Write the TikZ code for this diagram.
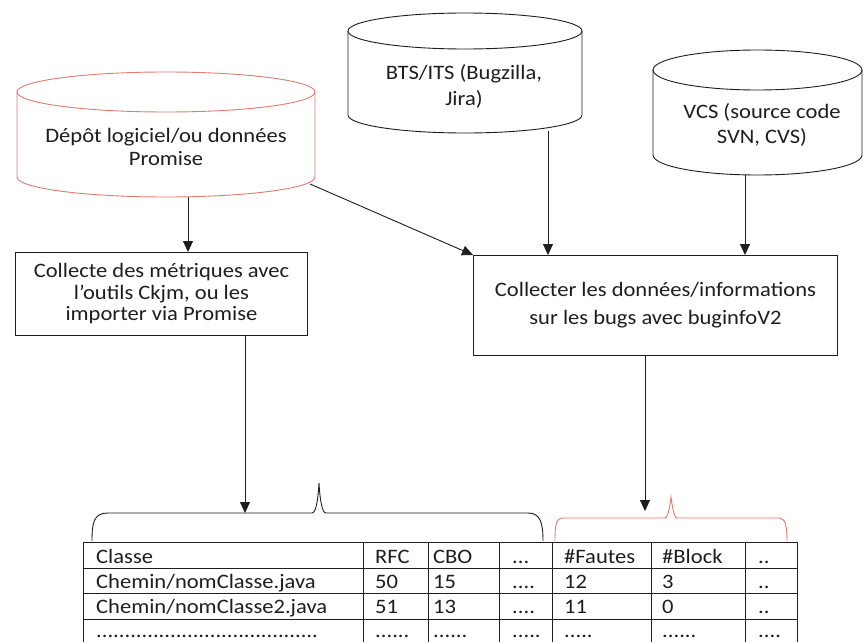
\documentclass[tikz,border=0pt]{standalone}
\usepackage{fontspec}
\setmainfont{Carlito}[FakeStretch=1.1]
\usetikzlibrary{arrows.meta}
\definecolor{salmon}{RGB}{222,125,110}
\definecolor{ink}{RGB}{30,30,30}
% database drum: #1 colour, #2 centre x, #3 top ellipse y, #4 bottom rim y, #5 x radius, #6 y radius
\newcommand\drum[6]{%
  \draw[line, draw=#1] (#2,#3) ellipse [x radius=#5pt, y radius=#6pt];
  \draw[line, draw=#1] ({#2-#5},#3) -- ({#2-#5},#4)
    arc[start angle=180, end angle=360, x radius=#5pt, y radius=#6pt] -- ({#2+#5},#3);}
\begin{document}
\begin{tikzpicture}[x=1pt,y=-1pt,
  line/.style={draw=ink, line width=0.9pt},
  arr/.style={line, -{Triangle[length=11pt,width=10pt]}},
  txt/.style={align=center, inner sep=0pt, text=ink},
  box/.style={line, fill=white, align=center, text=ink, anchor=north west},
  cell/.style={anchor=base west, inner sep=0pt, text=ink, font=\fontsize{20.5}{22}\selectfont},
]
\useasboundingbox[fill=white] (0,0) rectangle (865,642);

% data sources
\drum{salmon}{166}{92}{177}{149}{20}
\drum{ink}{465}{31}{115}{117}{18}
\drum{ink}{757.5}{70}{155}{104.5}{20}
\node[txt, font=\fontsize{20.5}{23}\selectfont] (depot) at (166,147) {Dépôt logiciel/ou données\\Promise};
\node[txt, font=\fontsize{20.5}{26}\selectfont] (bts) at (464,86) {BTS/ITS (Bugzilla,\\Jira)};
\node[txt, font=\fontsize{20.5}{25}\selectfont] (vcs) at (762,125) {VCS (source code\\SVN, CVS)};
\coordinate (c1s) at (188,197);
\coordinate (c1r) at (310,184);
\coordinate (c2s) at (548,131);
\coordinate (c3s) at (745,175);

% processing steps
\node[box, minimum width=292pt, minimum height=83pt, font=\fontsize{20.5}{21.5}\selectfont] (b1) at (15,252)
  {Collecte des métriques avec\\l’outils Ckjm, ou les\\importer via Promise};
\node[box, minimum width=364pt, minimum height=100pt, font=\fontsize{20.5}{28}\selectfont] (b2) at (473,255)
  {Collecter les données/informations\\sur les bugs avec buginfoV2};

\draw[arr] (c1s) -- (c1s |- b1.north);
\draw[arr] (c1r) -- (b2.north west);
\draw[arr] (c2s) -- (c2s |- b2.north);
\draw[arr] (c3s) -- (c3s |- b2.north);

% braces over the table
\coordinate (brL) at (245,513);
\coordinate (brR) at (645,511);
\draw[line] (92,541) .. controls (92,522) and (94,513) .. (108,513) -- (312,513)
  .. controls (316,513) and (318,500) .. (319,483) .. controls (320,500) and (322,513) .. (326,513)
  -- (528,513) .. controls (540,513) and (543,522) .. (543,541);
\draw[line, draw=salmon] (555,541) .. controls (555,525) and (556,518) .. (563,518) -- (665,518)
  .. controls (668,518) and (670,505) .. (671,497) .. controls (672,505) and (674,518) .. (677,518)
  -- (779,518) .. controls (785,518) and (787,525) .. (787,541);
\draw[arr] (brL |- b1.south) -- (brL);
\draw[arr] (brR |- b2.south) -- (brR);

% result table
\foreach \yy in {542,568,593,619} \draw[line] (83,\yy) -- (797,\yy);
\foreach \xx in {83,363,428,499,552,651,745,797} \draw[line] (\xx,542) -- (\xx,642);

\node[cell] (r1a) at (96,563) {Classe};
\node[cell] (r1b) at (375,563) {RFC};
\node[cell] (r1c) at (433,563) {CBO};
\node[cell] (r1d) at (512,563) {...};
\node[cell] (r1e) at (564,563) {\#Fautes};
\node[cell] (r1f) at (662,563) {\#Block};
\node[cell] (r1g) at (758,563) {..};

\node[cell] (r2a) at (96,588.5) {Chemin/nomClasse.java};
\node[cell] (r2b) at (375,588.5) {50};
\node[cell] (r2c) at (433,588.5) {15};
\node[cell] (r2d) at (512,588.5) {....};
\node[cell] (r2e) at (564,588.5) {12};
\node[cell] (r2f) at (662,588.5) {3};
\node[cell] (r2g) at (758,588.5) {..};

\node[cell] (r3a) at (96,613.5) {Chemin/nomClasse2.java};
\node[cell] (r3b) at (375,613.5) {51};
\node[cell] (r3c) at (433,613.5) {13};
\node[cell] (r3d) at (512,613.5) {....};
\node[cell] (r3e) at (564,613.5) {11};
\node[cell] (r3f) at (662,613.5) {0};
\node[cell] (r3g) at (758,613.5) {..};

\node[cell] (r4a) at (96,637) {.......................................};
\node[cell] (r4b) at (375,637) {......};
\node[cell] (r4c) at (433,637) {......};
\node[cell] (r4d) at (512,637) {.....};
\node[cell] (r4e) at (564,637) {.....};
\node[cell] (r4f) at (662,637) {......};
\node[cell] (r4g) at (758,637) {....};
\end{tikzpicture}
\end{document}
